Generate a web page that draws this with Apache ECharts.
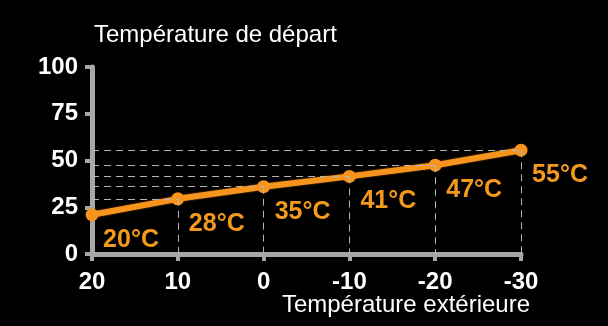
<!DOCTYPE html>
<html>
<head>
<meta charset="utf-8">
<script src="https://cdn.jsdelivr.net/npm/echarts@6/dist/echarts.min.js"></script>
<style>
html,body{margin:0;padding:0;background:#000;}
#chart{width:608px;height:326px;}
</style>
</head>
<body>
<div id="chart"></div>
<script>
// Data
const outdoorTemps = [20, 10, 0, -10, -20, -30];          // x values (°C extérieure)
const supplyTemps  = [21, 29.5, 36, 41.5, 47.5, 55.5];    // plotted y values
const pointLabels  = ['20°C', '28°C', '35°C', '41°C', '47°C', '55°C'];
const yTicks = [0, 25, 50, 75, 100];
const titleText = 'Température de départ';
const xNameText = 'Température extérieure';

const FONT = '"Liberation Sans", Arial, Helvetica, sans-serif';
const ORANGE = '#f7941d';
const GRAY = '#a7a7a7';

const points = outdoorTemps.map((x, i) => [x, supplyTemps[i]]);
const guideLines = [];
points.forEach((p, i) => {
  if (i === 0) return;
  guideLines.push([{ coord: [outdoorTemps[0], p[1]] }, { coord: [p[0], p[1]] }]);
  guideLines.push([{ coord: [p[0], p[1]] }, { coord: [p[0], yTicks[0]] }]);
});

const chart = echarts.init(document.getElementById('chart'));
chart.setOption({
  backgroundColor: '#000',
  animation: false,
  title: [
    { text: titleText, left: 94, top: 23, padding: 0,
      textStyle: { color: '#fff', fontFamily: FONT, fontSize: 24, fontWeight: 'normal' } },
    { text: xNameText, right: 78, top: 293, padding: 0,
      textStyle: { color: '#fff', fontFamily: FONT, fontSize: 24, fontWeight: 'normal' } }
  ],
  grid: { left: 92, right: 87, top: 67, bottom: 72, containLabel: false },
  xAxis: {
    type: 'value', inverse: true, min: -30, max: 20, interval: 10,
    axisLine: { show: true, onZero: false, lineStyle: { color: GRAY, width: 5 } },
    axisTick: { show: true, length: 7, lineStyle: { color: GRAY, width: 4 } },
    axisLabel: { color: '#fff', fontFamily: FONT, fontSize: 24, fontWeight: 'bold', margin: 16 },
    splitLine: { show: false }
  },
  yAxis: {
    type: 'value', min: 0, max: 100, interval: 25,
    axisLine: { show: true, onZero: false, lineStyle: { color: GRAY, width: 5 } },
    axisTick: { show: true, length: 7, lineStyle: { color: GRAY, width: 4 } },
    axisLabel: { color: '#fff', fontFamily: FONT, fontSize: 24, fontWeight: 'bold', margin: 14,
      padding: [7, 0, 0, 0] },
    splitLine: { show: false }
  },
  series: [
    {
      type: 'line',
      data: points,
      z: 1,
      symbol: 'none',
      lineStyle: { opacity: 0 },
      markLine: {
        silent: true, symbol: ['none', 'none'],
        label: { show: false },
        lineStyle: { color: '#b5b5b5', width: 1, type: [7, 5] },
        data: guideLines
      }
    },
    {
      type: 'line',
      data: points,
      z: 3,
      symbol: 'circle',
      symbolSize: 13,
      itemStyle: { color: ORANGE },
      lineStyle: { color: ORANGE, width: 6, shadowColor: 'rgba(200,110,10,0.8)', shadowBlur: 2 },
      label: {
        show: true, position: 'inside', offset: [39, 25],
        color: '#f39a1e', fontFamily: FONT, fontSize: 25, fontWeight: 'bold',
        formatter: p => pointLabels[p.dataIndex]
      }
    }
  ]
});
</script>
</body>
</html>
